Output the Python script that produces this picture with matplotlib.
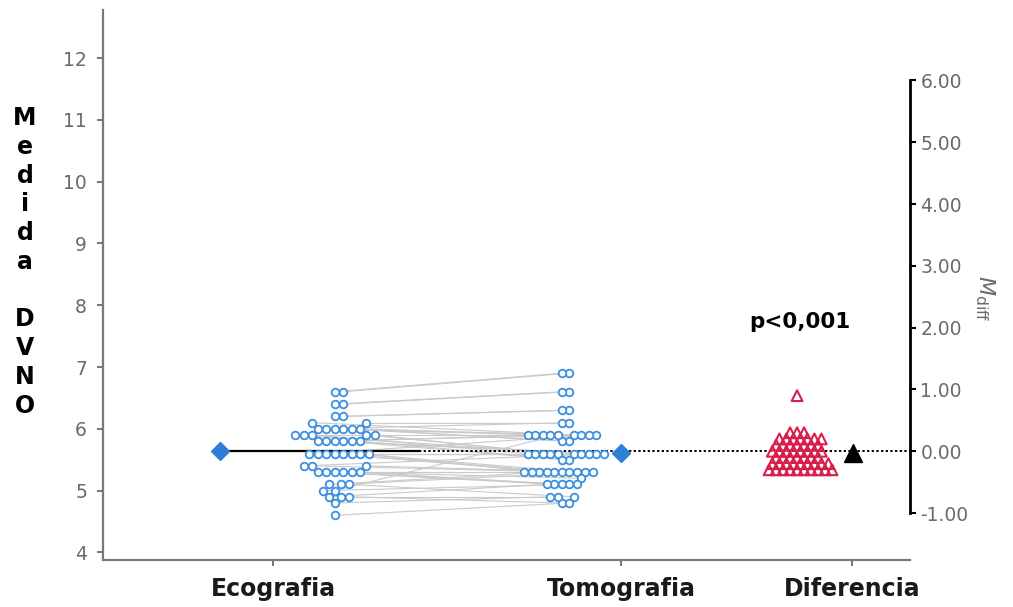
import numpy as np
import matplotlib.pyplot as plt

plt.rcParams["font.family"] = ["DejaVu Sans"]
plt.rcParams["mathtext.fontset"] = "dejavusans"

# paired measurements (one entry per patient, same order in both lists)
ecografia = [6.6, 6.6, 6.4, 6.4, 6.2, 6.2, 6.1, 6.1, 6.0, 6.0, 6.0, 6.0, 6.0, 6.0,
             5.9, 5.9, 5.9, 5.9, 5.9, 5.8, 5.8, 5.8, 5.8, 5.8, 5.8,
             5.6, 5.6, 5.6, 5.6, 5.6, 5.6, 5.6, 5.6, 5.4, 5.4, 5.4,
             5.3, 5.3, 5.3, 5.3, 5.3, 5.3, 5.1, 5.1, 5.1, 5.0, 5.0,
             4.9, 4.9, 4.9, 4.8, 4.6]
tomografia = [6.9, 6.9, 6.6, 6.6, 6.3, 6.3, 6.1, 5.9, 6.1, 5.9, 5.9, 5.8, 5.8, 5.9,
              5.6, 5.6, 5.6, 5.9, 5.6, 5.9, 5.5, 5.9, 5.6, 5.5, 5.6,
              5.3, 5.9, 5.3, 5.6, 5.6, 5.3, 5.6, 5.3, 5.6, 5.3, 5.3,
              5.1, 5.3, 5.1, 5.2, 5.3, 5.1, 5.3, 5.3, 4.9, 5.9, 5.1,
              5.1, 4.8, 4.9, 4.9, 4.8]
categories = ["Ecografia", "Tomografia", "Diferencia"]
diff_ticks = [-1, 0, 1, 2, 3, 4, 5, 6]
left_ticks = [4, 5, 6, 7, 8, 9, 10, 11, 12]
p_text = "p<0,001"

eco = np.array(ecografia)
tomo = np.array(tomografia)
diff = tomo - eco
m_eco = eco.mean()
m_tomo = tomo.mean()
m_diff = diff.mean()

W, H = 1013, 607
fig = plt.figure(figsize=(W / 100, H / 100), dpi=100)
x0, x1, ytop, ybot = 103, 910, 10, 560
ax = fig.add_axes([x0 / W, 1 - ybot / H, (x1 - x0) / W, (ybot - ytop) / H])
ax2 = ax.twinx()

xlim = (-0.4885, 1.8305)
ylim = (3.877, 12.777)
ax.set_xlim(*xlim)
ax.set_ylim(*ylim)
ax2.set_ylim(ylim[0] - m_eco, ylim[1] - m_eco)

px_x = (x1 - x0) / (xlim[1] - xlim[0])
px_y = (ybot - ytop) / (ylim[1] - ylim[0])


def swarm(vals, d):
    # simple beeswarm, offsets in pixels
    ys = np.asarray(vals) * px_y
    xs = np.zeros(len(ys))
    placed = []
    for i in np.argsort(ys):
        y = ys[i]
        cands = [0.0]
        for px, py in placed:
            dy = y - py
            if abs(dy) < d:
                dx = np.sqrt(d * d - dy * dy)
                cands += [px + dx, px - dx]
        cands.sort(key=abs)
        for c in cands:
            if all((c - px) ** 2 + (y - py) ** 2 >= d * d - 1e-6 for px, py in placed):
                xs[i] = c
                break
        placed.append((xs[i], y))
    return xs / px_x


pos = [0.0, 1.0, 1.664]
x_eco = 0.178 + swarm(eco, 8.5)
x_tomo = 0.83 + swarm(tomo, 7.5)
x_diff = 1.506 + swarm(diff, 7.0)

blue = "#3d8fe0"
# paired lines
for xa, ya, xb, yb in zip(x_eco, eco, x_tomo, tomo):
    ax.plot([xa, xb], [ya, yb], color="#cacaca", lw=0.8, zorder=1)

ax.scatter(x_eco, eco, s=30, facecolors="white", edgecolors=blue, linewidths=1.3, zorder=3)
ax.scatter(x_tomo, tomo, s=30, facecolors="white", edgecolors=blue, linewidths=1.3, zorder=3)

# mean lines
ax.plot([-0.152, 0.42], [m_eco, m_eco], color="black", lw=1.6, zorder=2)
ax.plot([0.42, xlim[1]], [m_eco, m_eco], color="black", lw=1.4, ls=(0, (1.2, 1.2)), zorder=2)
ax.plot([-0.152], [m_eco], marker="D", ms=9, color="#2b7fd8", zorder=4)
ax.plot([1.0], [m_tomo], marker="D", ms=9, color="#2b7fd8", zorder=4)

# differences on the right axis
ax2.scatter(x_diff, diff, s=60, marker="^", facecolors="none", edgecolors="#d81e4b",
            linewidths=1.5, zorder=3)
ax2.plot([1.667], [m_diff], marker="^", ms=13, color="black", zorder=4)
ax2.text(1.514, 7.73 - m_eco, p_text, ha="center", va="center", fontsize=15.5, fontweight="bold")

# axes styling
for s in ["top", "right"]:
    ax.spines[s].set_visible(False)
for s in ["top", "left", "bottom"]:
    ax2.spines[s].set_visible(False)
ax.spines["left"].set_color("#7a7a7a")
ax.spines["bottom"].set_color("#7a7a7a")
ax.spines["left"].set_linewidth(1.6)
ax.spines["bottom"].set_linewidth(1.6)
ax.set_yticks(left_ticks)
ax.set_yticklabels([str(t) for t in left_ticks])
ax.tick_params(axis="y", colors="#6a6a6a", labelsize=13.5, length=4.5, width=1.3, pad=7)
ax.set_xticks(pos)
ax.set_xticklabels(categories, fontsize=17, fontweight="bold")
ax.tick_params(axis="x", colors="#6a6a6a", length=4.5, width=1.3, pad=8)
for lbl in ax.get_xticklabels():
    lbl.set_color("#1a1a1a")

ax2.spines["right"].set_bounds(-1, 6)
ax2.spines["right"].set_linewidth(2)
ax2.spines["right"].set_color("black")
ax2.set_yticks(diff_ticks)
ax2.set_yticklabels(["%.2f" % t for t in diff_ticks])
ax2.tick_params(axis="y", colors="black", labelsize=13.5, length=4.5, width=1.5, pad=3)
for lbl in ax2.get_yticklabels():
    lbl.set_color("#6a6a6a")

fig.text(25 / W, 1 - 262 / H, "M\ne\nd\ni\nd\na\n\nD\nV\nN\nO", ha="center", va="center",
         fontsize=17, fontweight="bold", linespacing=1.25)
fig.text(985 / W, 1 - 298 / H, r"$M_{\mathrm{diff}}$", ha="center", va="center",
         rotation=270, fontsize=16, color="#6a6a6a")

fig.savefig("out.png", dpi=100)
